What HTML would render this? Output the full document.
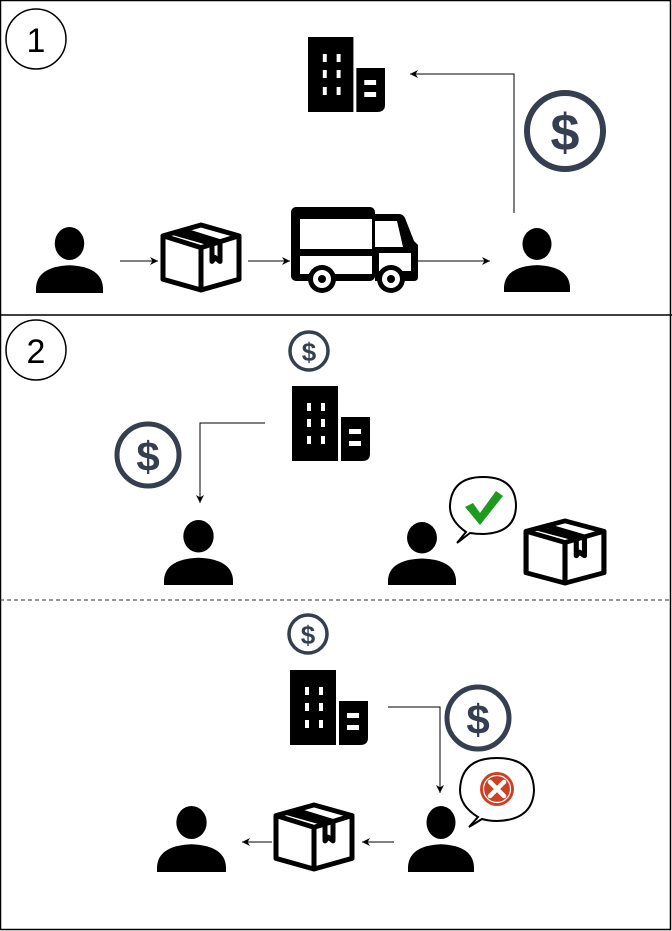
<!DOCTYPE html>
<html><head><meta charset="utf-8"><style>
html,body{margin:0;padding:0;background:#fff;width:672px;height:931px;overflow:hidden}
svg{display:block}
text{font-family:"Liberation Sans",sans-serif}
</style></head><body>
<svg width="672" height="931" viewBox="0 0 672 931" xmlns="http://www.w3.org/2000/svg">
<defs>
<symbol id="person" viewBox="0 0 100 100" preserveAspectRatio="none">
<ellipse cx="50" cy="25" rx="22" ry="25" fill="#000"/>
<path d="M0 100 L0 92 Q2 60 50 58 Q98 60 100 92 L100 100 Z" fill="#000"/>
</symbol>
<symbol id="box" viewBox="0 0 82 72" preserveAspectRatio="none">
<g fill="none" stroke="#000" stroke-width="5" stroke-linejoin="round">
<path d="M41 3 L79 14 L79 58 L41 69 L3 58 L3 14 Z"/>
<path d="M3 14 L41 26 L79 14"/>
<path d="M41 26 L41 69"/>
<path d="M22 8 L60 20 L60 40 L55 36 L52 40 L52 22 L14 11"/>
</g>
</symbol>
<symbol id="truck" viewBox="0 0 127 86" preserveAspectRatio="none">
<rect x="0" y="0" width="84" height="74" rx="5" fill="#000"/>
<rect x="9" y="12" width="72" height="30" fill="#fff"/>
<rect x="9" y="49" width="72" height="18" fill="#fff"/>
<path d="M84 7 L108 7 Q112 7 114 11 L123 34 L127 38 L127 70 Q127 74 123 74 L84 74 Z" fill="#000"/>
<path d="M84 14 L106 14 L112 40 L84 40 Z" fill="#fff"/>
<path d="M88 46 L120 46 L120 64 L88 64 Z" fill="#fff"/>
<circle cx="31" cy="72" r="14" fill="#000"/><circle cx="31" cy="72" r="9" fill="#fff"/><circle cx="31" cy="72" r="4" fill="#000"/>
<circle cx="100" cy="72" r="14" fill="#000"/><circle cx="100" cy="72" r="9" fill="#fff"/><circle cx="100" cy="72" r="4" fill="#000"/>
</symbol>
<symbol id="bldg" viewBox="0 0 78 75" preserveAspectRatio="none">
<rect x="0" y="0" width="46" height="75" fill="#000"/>
<path d="M49 31 L78 31 L78 68 Q78 75 70 75 L49 75 Z" fill="#000"/>
<g fill="#fff">
<rect x="15" y="17" width="4" height="8"/><rect x="29" y="17" width="4" height="8"/>
<rect x="15" y="33" width="4" height="8"/><rect x="29" y="33" width="4" height="8"/>
<rect x="15" y="50" width="4" height="8"/><rect x="29" y="50" width="4" height="8"/>
<rect x="57" y="43" width="12" height="5"/><rect x="57" y="55" width="12" height="5"/>
</g>
</symbol>
<marker id="ah" viewBox="0 0 10 10" refX="10" refY="5" markerWidth="8" markerHeight="8" orient="auto" markerUnits="userSpaceOnUse">
<path d="M0 0 L10 5 L0 10 L3 5 Z" fill="#000"/>
</marker>
</defs>

<rect x="0.5" y="0.5" width="670" height="929" fill="none" stroke="#000" stroke-width="1.5"/>
<line x1="0" y1="315" x2="672" y2="315" stroke="#000" stroke-width="1.5"/>
<line x1="0" y1="600" x2="672" y2="600" stroke="#333" stroke-width="1" stroke-dasharray="4,3"/>

<ellipse cx="36" cy="39" rx="30" ry="30" fill="none" stroke="#000" stroke-width="1.5"/>
<text x="36" y="52" font-size="34" text-anchor="middle">1</text>
<use href="#bldg" x="308" y="37" width="77" height="75"/>
<path d="M514 213 L514 74 L410 74" fill="none" stroke="#000" stroke-width="1" marker-end="url(#ah)"/>
<circle cx="565" cy="131" r="38" fill="none" stroke="#353f4f" stroke-width="6"/>
<text x="565" y="150" font-size="52" font-weight="bold" text-anchor="middle" fill="#353f4f">$</text>
<use href="#person" x="36" y="227" width="67" height="66"/>
<line x1="120" y1="261" x2="158" y2="261" stroke="#000" stroke-width="1" marker-end="url(#ah)"/>
<use href="#box" x="160" y="222" width="82" height="71"/>
<line x1="248" y1="261" x2="290" y2="261" stroke="#000" stroke-width="1" marker-end="url(#ah)"/>
<use href="#truck" x="291" y="207" width="127" height="86"/>
<line x1="418" y1="261" x2="490" y2="261" stroke="#000" stroke-width="1" marker-end="url(#ah)"/>
<use href="#person" x="504" y="228" width="66" height="64"/>

<ellipse cx="36" cy="350" rx="30" ry="30" fill="none" stroke="#000" stroke-width="1.5"/>
<text x="36" y="363" font-size="34" text-anchor="middle">2</text>
<circle cx="309" cy="351" r="19" fill="none" stroke="#353f4f" stroke-width="3.5"/>
<text x="309" y="361" font-size="26" font-weight="bold" text-anchor="middle" fill="#353f4f">$</text>
<use href="#bldg" x="292" y="386" width="78" height="75"/>
<path d="M265 423 L200 423 L200 503" fill="none" stroke="#000" stroke-width="1" marker-end="url(#ah)"/>
<circle cx="148" cy="455" r="31" fill="none" stroke="#353f4f" stroke-width="5"/>
<text x="148" y="471" font-size="42" font-weight="bold" text-anchor="middle" fill="#353f4f">$</text>
<use href="#person" x="164" y="520" width="69" height="65"/>
<use href="#person" x="388" y="522" width="68" height="63"/>
<path d="M466 532 Q449 520 450 505 Q452 477 483 477 Q515 477 516 505 Q516 533 483 534 Q476 534 470 533 L457 543 Z" fill="#fff" stroke="#000" stroke-width="2"/>
<path d="M465 507 L473 503 L480 513 L496 491 L503 496 L480 525 Z" fill="#1e9a1e"/>
<use href="#box" x="523" y="518" width="84" height="68"/>

<circle cx="308" cy="634" r="19" fill="none" stroke="#353f4f" stroke-width="3.5"/>
<text x="308" y="644" font-size="26" font-weight="bold" text-anchor="middle" fill="#353f4f">$</text>
<use href="#bldg" x="290" y="670" width="78" height="75"/>
<path d="M388 707 L440 707 L440 793" fill="none" stroke="#000" stroke-width="1" marker-end="url(#ah)"/>
<circle cx="478" cy="718" r="31" fill="none" stroke="#353f4f" stroke-width="5"/>
<text x="478" y="734" font-size="42" font-weight="bold" text-anchor="middle" fill="#353f4f">$</text>
<path d="M478 817 Q460 806 460 790 Q461 758 497 758 Q533 758 534 790 Q533 820 497 821 Q489 821 482 819 L469 827 Z" fill="#fff" stroke="#000" stroke-width="2"/>
<circle cx="497" cy="789" r="17" fill="#cc4125"/>
<circle cx="497" cy="789" r="13.5" fill="none" stroke="#fff" stroke-width="1.2"/>
<path d="M490 782 L504 796 M504 782 L490 796" stroke="#fff" stroke-width="4.5" stroke-linecap="round"/>
<use href="#person" x="408" y="806" width="66" height="66"/>
<line x1="394" y1="842" x2="362" y2="842" stroke="#000" stroke-width="1" marker-end="url(#ah)"/>
<use href="#box" x="273" y="802" width="82" height="70"/>
<line x1="272" y1="842" x2="242" y2="842" stroke="#000" stroke-width="1" marker-end="url(#ah)"/>
<use href="#person" x="157" y="806" width="69" height="66"/>
</svg>
</body></html>
